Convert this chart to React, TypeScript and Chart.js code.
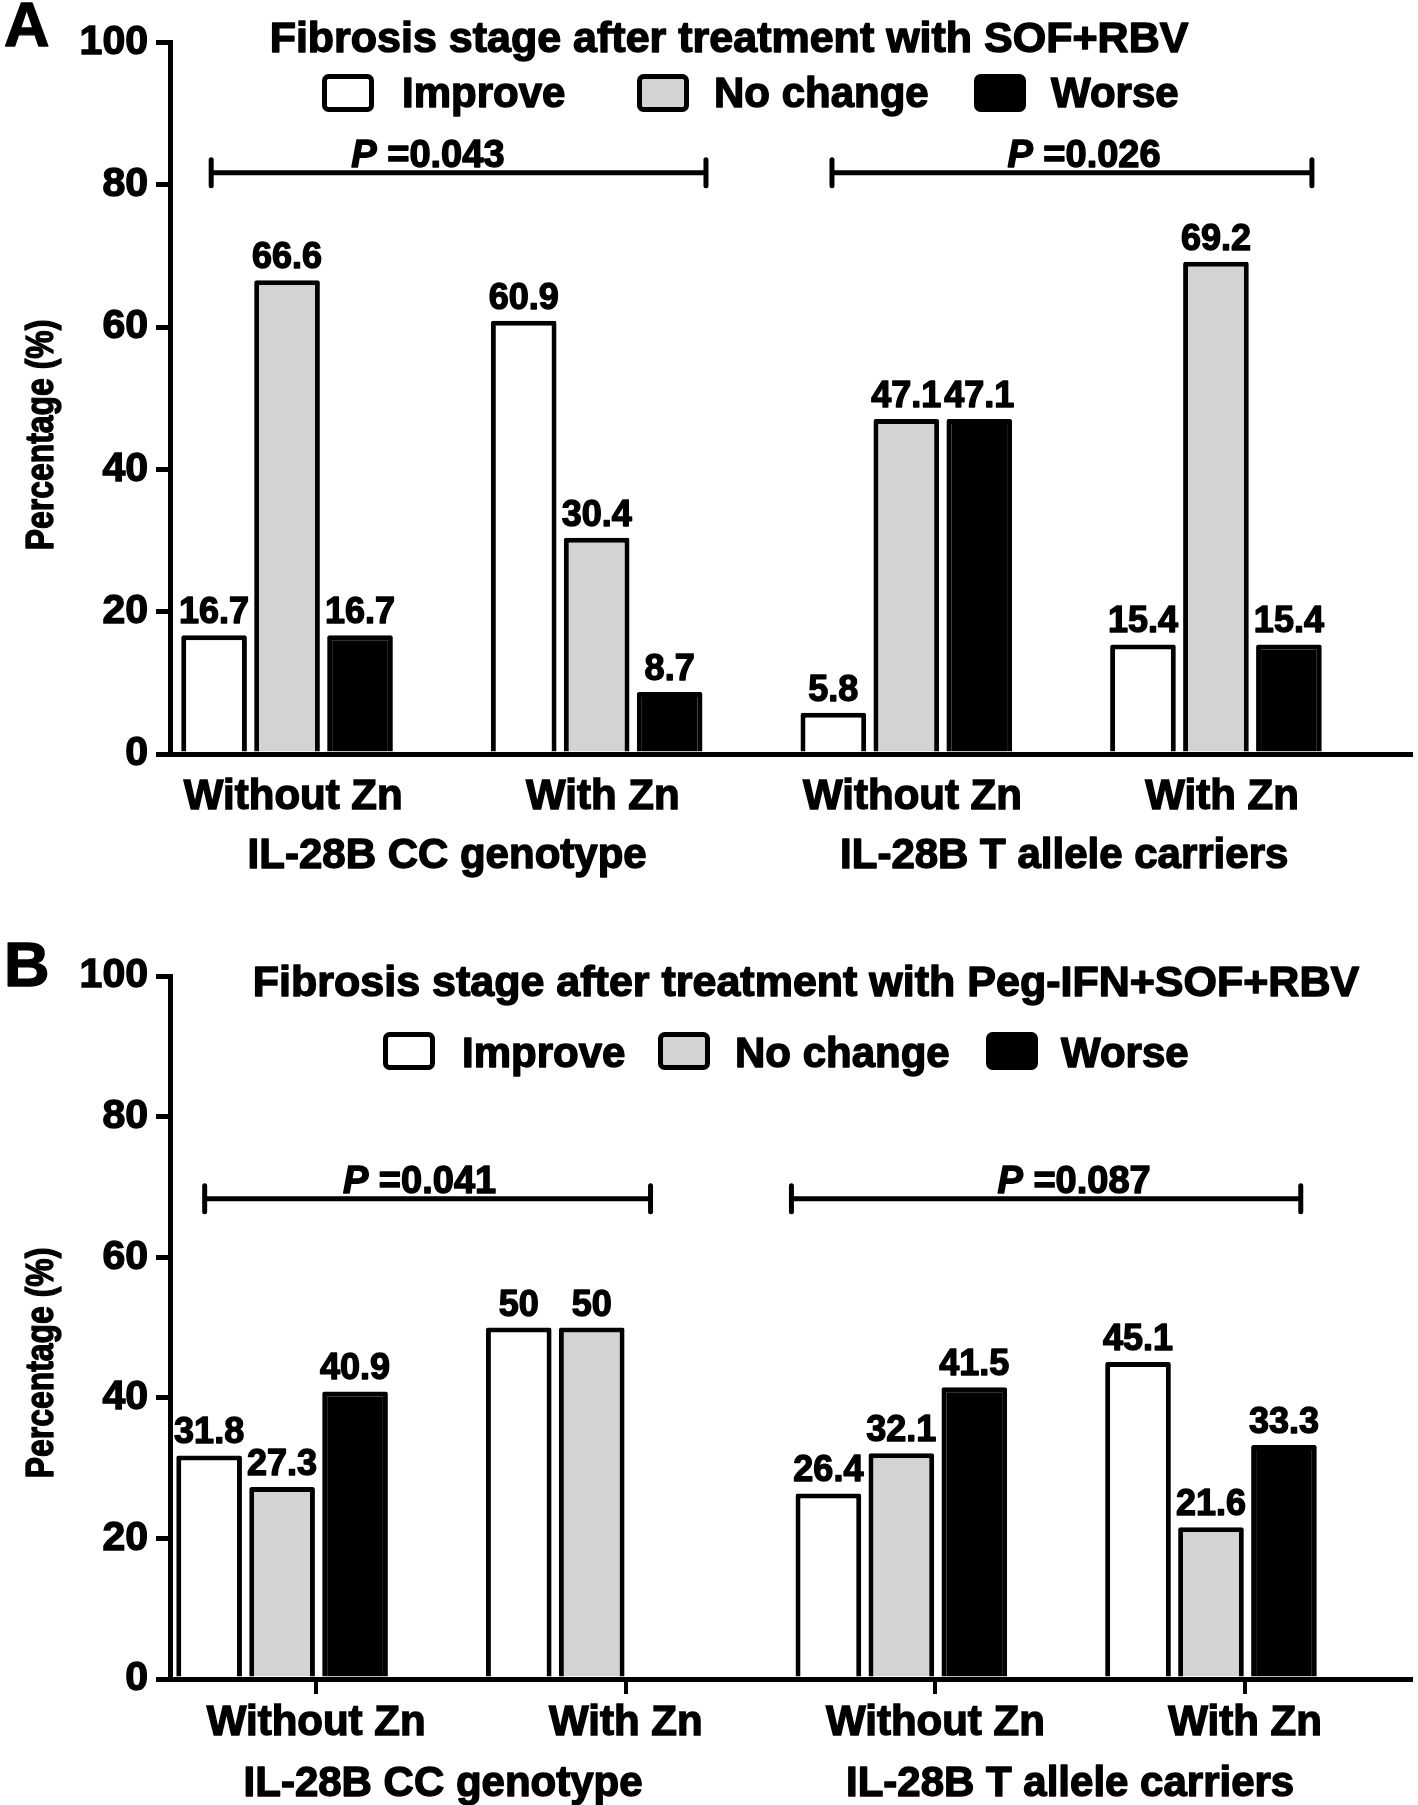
import React, { useEffect, useRef } from 'react';
import { Chart, registerables } from 'chart.js';

Chart.register(...registerables);

// ---------- data ----------
const categories = ['Without Zn', 'With Zn', 'Without Zn', 'With Zn'];
const groupLabels = ['IL-28B CC genotype', 'IL-28B T allele carriers'];
const seriesNames = ['Improve', 'No change', 'Worse'];
const yAxisTitle = 'Percentage (%)';

const titleA = 'Fibrosis stage after treatment with SOF+RBV';
const improveA = [16.7, 60.9, 5.8, 15.4];
const noChangeA = [66.6, 30.4, 47.1, 69.2];
const worseA = [16.7, 8.7, 47.1, 15.4];
const pValuesA = ['0.043', '0.026'];

const titleB = 'Fibrosis stage after treatment with Peg-IFN+SOF+RBV';
const improveB = [31.8, 50, 26.4, 45.1];
const noChangeB = [27.3, 50, 32.1, 21.6];
const worseB: (number | null)[] = [40.9, null, 41.5, 33.3];
const pValuesB = ['0.041', '0.087'];

// ---------- styles ----------
const FONT = '"Liberation Sans", Arial, Helvetica, sans-serif';
const STROKE = 1.4;
const seriesColors = ['#ffffff', '#d3d3d3', '#000000'];

type Bracket = { x0: number; x1: number; y: number; tx: number; p: string };

type PanelCfg = {
  letter: string;
  title: string;
  series: (number | null)[][];
  height: number;
  top: number;
  bottom: number;
  xMin: number;
  xMax: number;
  tickShift: number;
  xTickMarks: boolean;
  labelPad: number;
  letterY: number;
  titleX: number;
  titleY: number;
  legendBoxX: number[];
  legendTextX: number[];
  legendBoxY: number;
  legendTextY: number;
  yTitleY: number;
  groupX: number[];
  groupY: number;
  brackets: Bracket[];
};

const panelA: PanelCfg = {
  letter: 'A',
  title: titleA,
  series: [improveA, noChangeA, worseA],
  height: 902,
  top: 42.6,
  bottom: 754,
  xMin: -0.378,
  xMax: 3.63,
  tickShift: 0.02,
  xTickMarks: false,
  labelPad: 3,
  letterY: 46,
  titleX: 729,
  titleY: 52,
  legendBoxX: [322, 637, 974],
  legendTextX: [402, 714, 1051],
  legendBoxY: 74,
  legendTextY: 107,
  yTitleY: 435,
  groupX: [0.517, 2.51],
  groupY: 868,
  brackets: [
    { x0: -0.245, x1: 1.353, y: 81.7, tx: 0.455, p: pValuesA[0] },
    { x0: 1.76, x1: 3.31, y: 81.7, tx: 2.574, p: pValuesA[1] },
  ],
};

const panelB: PanelCfg = {
  letter: 'B',
  title: titleB,
  series: [improveB, noChangeB, worseB],
  height: 903,
  top: 74,
  bottom: 777,
  xMin: -0.362,
  xMax: 3.646,
  tickShift: 0.11,
  xTickMarks: true,
  labelPad: 4,
  letterY: 84,
  titleX: 806,
  titleY: 94,
  legendBoxX: [383, 658, 986],
  legendTextX: [462, 735, 1061],
  legendBoxY: 130,
  legendTextY: 165,
  yTitleY: 461,
  groupX: [0.52, 2.545],
  groupY: 894,
  brackets: [
    { x0: -0.25, x1: 1.19, y: 68.3, tx: 0.444, p: pValuesB[0] },
    { x0: 1.645, x1: 3.29, y: 68.3, tx: 2.558, p: pValuesB[1] },
  ],
};

function heavyText(ctx: CanvasRenderingContext2D, s: string, x: number, y: number) {
  ctx.fillText(s, x, y);
  ctx.lineWidth = STROKE;
  ctx.lineJoin = 'round';
  ctx.strokeText(s, x, y);
}

const decorPlugin = {
  id: 'panelDecor',
  afterDatasetsDraw(chart: any, _args: any, opts: any) {
    const cfg: PanelCfg = opts.cfg;
    const ctx: CanvasRenderingContext2D = chart.ctx;
    const xs = chart.scales.x;
    const ys = chart.scales.y;
    ctx.save();
    ctx.fillStyle = '#000';
    ctx.strokeStyle = '#000';

    // value labels
    ctx.font = `bold 36px ${FONT}`;
    ctx.textAlign = 'center';
    ctx.textBaseline = 'alphabetic';
    chart.data.datasets.forEach((ds: any, di: number) => {
      const meta = chart.getDatasetMeta(di);
      meta.data.forEach((el: any, i: number) => {
        const v = ds.data[i].y;
        if (v == null) return;
        heavyText(ctx, String(v), el.x, el.y - 12);
      });
    });

    // panel letter
    ctx.textAlign = 'left';
    ctx.font = `bold 63px ${FONT}`;
    heavyText(ctx, cfg.letter, 4, cfg.letterY);

    // title
    ctx.textAlign = 'center';
    ctx.font = `bold 43px ${FONT}`;
    heavyText(ctx, cfg.title, cfg.titleX, cfg.titleY);

    // legend
    ctx.textAlign = 'left';
    ctx.font = `bold 42px ${FONT}`;
    seriesNames.forEach((name, k) => {
      const bx = cfg.legendBoxX[k];
      ctx.beginPath();
      (ctx as any).roundRect(bx + 2.5, cfg.legendBoxY + 2.5, 47, 33, 4);
      ctx.fillStyle = seriesColors[k];
      ctx.fill();
      ctx.lineWidth = 5;
      ctx.strokeStyle = '#000';
      ctx.stroke();
      ctx.fillStyle = '#000';
      heavyText(ctx, name, cfg.legendTextX[k], cfg.legendTextY);
    });

    // y axis title
    ctx.save();
    ctx.translate(43, cfg.yTitleY);
    ctx.rotate(-Math.PI / 2);
    ctx.scale(0.84, 1);
    ctx.textAlign = 'center';
    ctx.textBaseline = 'middle';
    ctx.font = `bold 38px ${FONT}`;
    heavyText(ctx, yAxisTitle, 0, 0);
    ctx.restore();

    // group labels
    ctx.textAlign = 'center';
    ctx.textBaseline = 'alphabetic';
    ctx.font = `bold 42px ${FONT}`;
    groupLabels.forEach((g, k) => {
      heavyText(ctx, g, xs.getPixelForValue(cfg.groupX[k]), cfg.groupY);
    });

    // significance brackets
    cfg.brackets.forEach((b) => {
      const x0 = xs.getPixelForValue(b.x0);
      const x1 = xs.getPixelForValue(b.x1);
      const y = ys.getPixelForValue(b.y);
      ctx.lineWidth = 5;
      ctx.lineCap = 'round';
      ctx.beginPath();
      ctx.moveTo(x0, y);
      ctx.lineTo(x1, y);
      ctx.moveTo(x0, y - 13);
      ctx.lineTo(x0, y + 13);
      ctx.moveTo(x1, y - 13);
      ctx.lineTo(x1, y + 13);
      ctx.stroke();
      const pFont = `italic bold 38px ${FONT}`;
      const rFont = `bold 38px ${FONT}`;
      const rest = ' =' + b.p;
      ctx.font = pFont;
      const wP = ctx.measureText('P').width;
      ctx.font = rFont;
      const wR = ctx.measureText(rest).width;
      const cx = xs.getPixelForValue(b.tx);
      const sx = cx - (wP + wR) / 2;
      ctx.textAlign = 'left';
      ctx.font = pFont;
      heavyText(ctx, 'P', sx, y - 6);
      ctx.font = rFont;
      heavyText(ctx, rest, sx + wP, y - 6);
    });

    ctx.restore();
  },
};

function buildConfig(cfg: PanelCfg): any {
  const datasets = cfg.series.map((arr, k) => ({
    label: seriesNames[k],
    data: arr.map((v, i) => ({ x: i, y: v })),
    backgroundColor: seriesColors[k],
    borderColor: '#000',
    borderWidth: 5,
    borderRadius: 2,
    categoryPercentage: 0.707,
    barPercentage: 0.9,
  }));
  return {
    type: 'bar',
    data: { datasets },
    plugins: [decorPlugin],
    options: {
      responsive: false,
      animation: false,
      events: [],
      layout: { padding: { top: cfg.top, right: 7, left: 0, bottom: 0 } },
      plugins: {
        legend: { display: false },
        tooltip: { enabled: false },
        panelDecor: { cfg },
      },
      scales: {
        x: {
          type: 'linear',
          min: cfg.xMin,
          max: cfg.xMax,
          offset: false,
          afterBuildTicks: (ax: any) => {
            ax.ticks = categories.map((_, i) => ({ value: i + cfg.tickShift }));
          },
          afterFit: (ax: any) => {
            ax.height = cfg.height - cfg.bottom;
          },
          ticks: {
            autoSkip: false,
            maxRotation: 0,
            minRotation: 0,
            color: '#000',
            padding: cfg.labelPad,
            textStrokeColor: '#000',
            textStrokeWidth: STROKE,
            font: { family: FONT, size: 42, weight: 'bold' },
            callback: (v: number) => categories[Math.round(v)],
          },
          grid: {
            display: cfg.xTickMarks,
            offset: false,
            drawOnChartArea: false,
            drawTicks: true,
            tickLength: 15,
            tickWidth: 4,
            lineWidth: 4,
            color: '#000',
          },
          border: { display: true, color: '#000', width: 5 },
        },
        y: {
          type: 'linear',
          min: 0,
          max: 100,
          afterFit: (ax: any) => {
            ax.width = 170;
          },
          ticks: {
            stepSize: 20,
            color: '#000',
            padding: 8,
            textStrokeColor: '#000',
            textStrokeWidth: STROKE,
            font: { family: FONT, size: 41, weight: 'bold' },
          },
          grid: {
            drawOnChartArea: false,
            drawTicks: true,
            tickLength: 14,
            tickWidth: 5,
            lineWidth: 5,
            color: '#000',
          },
          border: { display: true, color: '#000', width: 5 },
        },
      },
    },
  };
}

function Panel({ cfg }: { cfg: PanelCfg }) {
  const ref = useRef<HTMLCanvasElement>(null);
  useEffect(() => {
    const chart = new Chart(ref.current as HTMLCanvasElement, buildConfig(cfg));
    return () => chart.destroy();
  }, [cfg]);
  return (
    <canvas
      ref={ref}
      width={1418}
      height={cfg.height}
      style={{ display: 'block', width: 1418, height: cfg.height }}
    />
  );
}

export default function App() {
  return (
    <div
      style={{
        position: 'absolute',
        left: 0,
        top: 0,
        width: 1418,
        height: 1805,
        background: '#ffffff',
      }}
    >
      <Panel cfg={panelA} />
      <Panel cfg={panelB} />
    </div>
  );
}
